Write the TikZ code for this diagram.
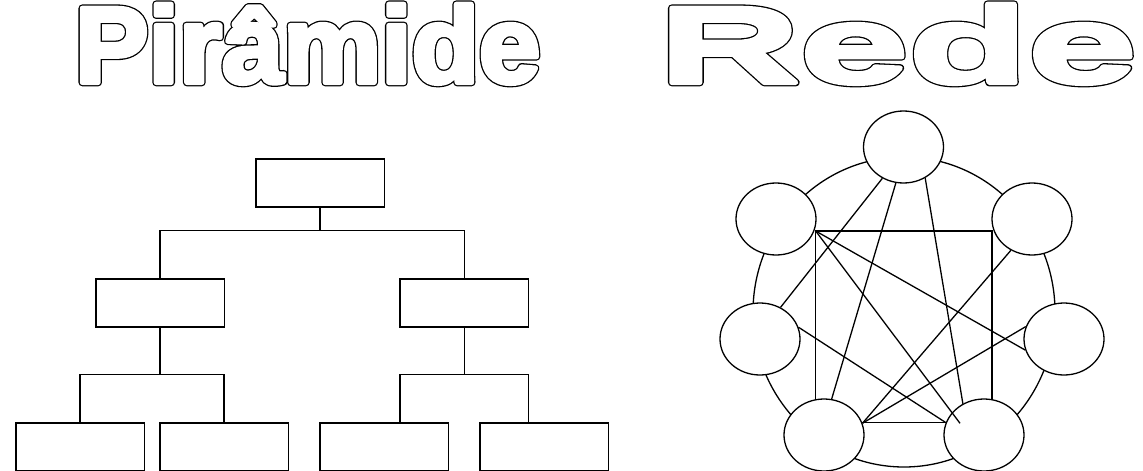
\documentclass[tikz,border=0pt]{standalone}
\usepackage{fontspec}
\usetikzlibrary{shapes.geometric}
\newfontfamily\pirfont{Liberation Sans Bold}[FakeStretch=1.02]
\newfontfamily\redefont{Liberation Sans Bold}[FakeStretch=1.81]
\newcommand\outltext[1]{%
  \rlap{\special{pdf:literal direct 1 j 7.6 w 1 Tr}#1\special{pdf:literal direct 0 Tr}}%
  \rlap{\color{white}\special{pdf:literal direct 1 j 5 w 1 Tr}#1\special{pdf:literal direct 0 Tr}}%
  {\color{white}#1}}
\newcommand\lowacirc{\ooalign{a\cr\hidewidth\raisebox{-5pt}{\char"02C6}\hidewidth\cr}}
\tikzset{
  orgbox/.style={draw, rectangle, minimum width=128.5pt, minimum height=48pt, inner sep=0pt, line width=1.5pt},
  lowbox/.style={orgbox, minimum height=47.3pt},
  tree/.style={line width=1.5pt},
  peer/.style={ellipse, draw, fill=white, minimum width=80pt, minimum height=72pt, inner sep=0pt, line width=1.3pt},
  net/.style={line width=1.3pt},
  title/.style={anchor=base, inner sep=0pt}
}
\begin{document}
\begin{tikzpicture}[x=1pt, y=-1pt]
\useasboundingbox (0,0) rectangle (1143,471);
% titles
\node[title] (tpir) at (307.6,82.5) {\fontsize{108pt}{110pt}\pirfont\outltext{Pir\lowacirc mide}};
\node[title] (trede) at (897.7,82.5) {\fontsize{108pt}{110pt}\redefont\outltext{Rede}};
% pyramid
\node[orgbox] (t) at (320,183) {};
\node[orgbox] (m1) at (160.2,303) {};
\node[orgbox] (m2) at (464.4,303) {};
\node[lowbox] (b1) at (80,446.7) {};
\node[lowbox] (b2) at (224.2,446.7) {};
\node[lowbox] (b3) at (384,446.7) {};
\node[lowbox] (b4) at (544,446.7) {};
\coordinate (bus1) at (0,230.7);
\coordinate (d1) at (80,374.7);
\coordinate (d2) at (224.2,374.7);
\coordinate (d3) at (400,374.7);
\coordinate (d4) at (528.5,374.7);
\draw[tree] (t.south) -- (t.south |- bus1);
\draw[tree] (m1.north) -- (m1.north |- bus1) -- (m2.north |- bus1) -- (m2.north);
\draw[tree] (m1.south) -- (m1.south |- d1);
\draw[tree] (d1 |- b1.north) -- (d1) -- (d2) -- (d2 |- b2.north);
\draw[tree] (m2.south) -- (m2.south |- d3);
\draw[tree] (d3 |- b3.north) -- (d3) -- (d4) -- (d4 |- b4.north);
% network
\node[ellipse, draw, line width=1.3pt, minimum width=302pt, minimum height=310pt, inner sep=0pt] (ring) at (904,312) {};
\coordinate (rtl) at (815.7,231);
\coordinate (rbr) at (992,422.7);
\draw[net] (rtl) rectangle (rbr);
\node[peer] (top) at (903.5,147) {};
\node[peer] (ul) at (776,219) {};
\node[peer] (ur) at (1032,219) {};
\node[peer] (ml) at (760,339) {};
\node[peer] (mr) at (1064,339) {};
\node[peer] (bl) at (824,435) {};
\node[peer] (br) at (984,435) {};
\coordinate (e5) at (960,423.3);
\draw[net] (top.236.6) -- (ml.57);
\draw[net] (top.258) -- (bl.78);
\draw[net] (top.-55) -- (br.124);
\draw[net] (rtl) -- (mr.196);
\draw[net] (rtl) -- (e5);
\draw[net] (ml.17) -- (br.162.5);
\draw[net] (ur.236.6) -- (bl.17);
\draw[net] (mr.162.5) -- (bl.17);
\end{tikzpicture}
\end{document}
